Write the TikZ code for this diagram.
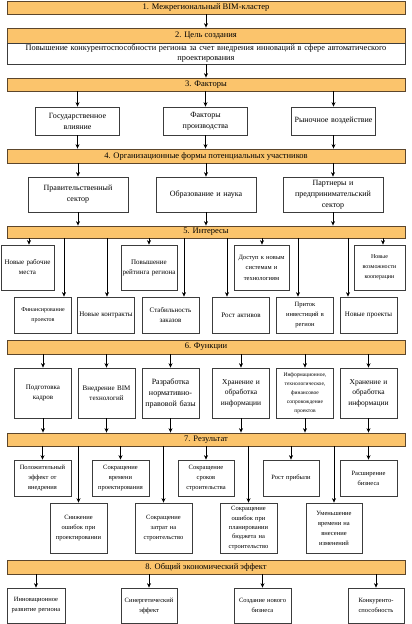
\documentclass[tikz,border=0pt]{standalone}
\usepackage{fontspec}
\setmainfont{Liberation Serif}
\usetikzlibrary{arrows.meta}
\definecolor{hdrorange}{RGB}{251,196,108}
\definecolor{hdrline}{RGB}{92,70,44}
\definecolor{boxline}{RGB}{60,60,60}

\begin{document}
\begin{tikzpicture}[x=1pt, y=-1pt,
    hdr/.style={draw=hdrline, fill=hdrorange, line width=0.8pt, minimum width=398pt,
      minimum height=#1, inner sep=0pt, font=\fontsize{8.5}{10}\selectfont},
    box/.style 2 args={draw=boxline, fill=white, line width=0.7pt, align=center,
      inner sep=1pt, text width=#1, minimum height=#2, font=\fontsize{7}{10}\selectfont},
    arr/.style={-{Stealth[length=4.5pt,width=4pt]}, line width=0.7pt}]
  \useasboundingbox (0,0) rectangle (412,624);

  % 1-2. Cluster and goal
  \node[hdr=13pt] (h1) at (206,7.5) {1. Межрегиональный BIM-кластер};
  \node[hdr=15pt] (h2) at (206,35.5) {2. Цель создания};
  \node[box={396pt}{21pt}, font=\fontsize{8.3}{10}\selectfont] (goal) at (206,53.5)
    {Повышение конкурентоспособности региона за счет внедрения инноваций в сфере автоматического\\проектирования};

  % 3. Factors
  \node[hdr=13pt] (h3) at (206,84.5) {3. Факторы};
  \node[box={82pt}{28pt}, font=\fontsize{8}{11}\selectfont] (gov) at (77.5,121) {Государственное\\влияние};
  \node[box={82pt}{28pt}, font=\fontsize{8}{11}\selectfont] (fprod) at (205.5,121) {Факторы\\производства};
  \node[box={82pt}{28pt}, font=\fontsize{8}{11}\selectfont] (rynok) at (333.5,121) {Рыночное воздействие};

  % 4. Participants
  \node[hdr=14pt] (h4) at (206,156) {4. Организационные формы потенциальных участников};
  \node[box={98pt}{35pt}, font=\fontsize{8}{11}\selectfont] (prav) at (78,194.5) {Правительственный\\сектор};
  \node[box={98pt}{35pt}, font=\fontsize{8}{11}\selectfont] (obr) at (206,194.5) {Образование и наука};
  \node[box={98pt}{35pt}, font=\fontsize{8}{11}\selectfont] (partn) at (333,194.5) {Партнеры и\\предпринимательский\\сектор};

  % 5. Interests
  \node[hdr=12pt] (h5) at (206,232) {5. Интересы};
  \node[box={51pt}{45pt}] (nr) at (27.5,267.5) {Новые рабочие\\места};
  \node[box={54pt}{45pt}] (rr) at (149,267.5) {Повышение\\рейтинга региона};
  \node[box={53pt}{45pt}, font=\fontsize{6.5}{10.5}\selectfont] (dost) at (261.5,267.5) {Доступ к новым\\системам и\\технологиям};
  \node[box={49pt}{45pt}, font=\fontsize{6}{10}\selectfont] (koop) at (379.5,267.5) {Новые\\возможности\\кооперации};
  \node[box={55pt}{36pt}, font=\fontsize{6}{10}\selectfont] (fin) at (43,315) {Финансирование\\проектов};
  \node[box={55pt}{36pt}, font=\fontsize{7}{10}\selectfont] (kontr) at (106,315) {Новые контракты};
  \node[box={55pt}{36pt}] (stab) at (170.5,315) {Стабильность\\заказов};
  \node[box={55pt}{36pt}] (akt) at (241,315) {Рост активов};
  \node[box={55pt}{36pt}, font=\fontsize{6.5}{10}\selectfont] (inv) at (305,315) {Приток\\инвестиций в\\регион};
  \node[box={55pt}{36pt}] (proj) at (368.5,315) {Новые проекты};

  % 6. Functions
  \node[hdr=14pt] (h6) at (206,347) {6. Функции};
  \node[box={55pt}{50pt}] (kadr) at (43,393) {Подготовка\\кадров};
  \node[box={55pt}{50pt}] (bim) at (106.5,393) {Внедрение BIM\\технологий};
  \node[box={55pt}{50pt}, font=\fontsize{8}{11}\selectfont] (norm) at (170.5,393) {Разработка\\нормативно-\\правовой базы};
  \node[box={55pt}{50pt}, font=\fontsize{7.5}{10.5}\selectfont] (hran) at (241,393) {Хранение и\\обработка\\информации};
  \node[box={55pt}{50pt}, font=\fontsize{5.5}{9}\selectfont] (sopr) at (305,393) {Информационное,\\технологическое,\\финансовое\\сопровождение\\проектов};
  \node[box={55pt}{50pt}, font=\fontsize{7.5}{10.5}\selectfont] (hranb) at (368.5,393) {Хранение и\\обработка\\информации};

  % 7. Results
  \node[hdr=13pt] (h7) at (206,439.5) {7. Результат};
  \node[box={55pt}{36pt}, font=\fontsize{6.5}{10}\selectfont] (poz) at (42.5,478) {Положительный\\эффект от\\внедрения};
  \node[box={55pt}{36pt}, font=\fontsize{6.5}{10}\selectfont] (vrem) at (120.5,478) {Сокращение\\времени\\проектирования};
  \node[box={54pt}{36pt}, font=\fontsize{6.5}{10}\selectfont] (srok) at (206,478) {Сокращение\\сроков\\строительства};
  \node[box={54pt}{36pt}, font=\fontsize{6.5}{10}\selectfont] (prib) at (291,478) {Рост прибыли};
  \node[box={55pt}{36pt}, font=\fontsize{6.5}{10}\selectfont] (rassh) at (368.5,478) {Расширение\\бизнеса};
  \node[box={55pt}{50pt}, font=\fontsize{6.5}{10}\selectfont] (osh) at (78.5,528) {Снижение\\ошибок при\\проектировании};
  \node[box={55pt}{50pt}, font=\fontsize{6.5}{10}\selectfont] (zatr) at (163.5,528) {Сокращение\\затрат на\\строительство};
  \node[box={55pt}{50pt}, font=\fontsize{6.5}{9.3}\selectfont] (budg) at (248.5,528) {Сокращение\\ошибок при\\планировании\\бюджета на\\строительство};
  \node[box={54pt}{50pt}, font=\fontsize{6.5}{10}\selectfont] (izm) at (334,528) {Уменьшение\\времени на\\внесение\\изменений};

  % 8. Overall effect
  \node[hdr=14pt] (h8) at (206,567) {8. Общий экономический эффект};
  \node[box={56pt}{35pt}, font=\fontsize{6.5}{10}\selectfont] (innov) at (36,605.5) {Инновационное\\развитие региона};
  \node[box={54pt}{35pt}, font=\fontsize{6.5}{10}\selectfont] (sinerg) at (149,605.5) {Синергетический\\эффект};
  \node[box={55pt}{35pt}, font=\fontsize{6.5}{10}\selectfont] (biz) at (262.5,605.5) {Создание нового\\бизнеса};
  \node[box={54pt}{35pt}, font=\fontsize{6.5}{10}\selectfont] (konk) at (376,605.5) {Конкуренто-\\способность};

  % Arrows
  \draw[arr] (h1) -- (h2);
  \draw[arr] (goal) -- (h3);
  \foreach \b in {gov,fprod,rynok} {
    \draw[arr] (h3.south -| \b) -- (\b);
    \draw[arr] (\b) -- (\b |- h4.north);
  }
  \foreach \b in {prav,obr,partn} {
    \draw[arr] (h4.south -| \b) -- (\b);
    \draw[arr] (\b) -- (\b |- h5.north);
  }
  \foreach \x/\b in {29/nr,149/rr,262/dost,383/koop,64/fin,107/kontr,184/stab,227/akt,298/inv,348/proj}
    \draw[arr] (\x,0 |- h5.south) -- (\x,0 |- \b.north);
  \foreach \b in {kadr,bim,norm,hran,sopr,hranb} {
    \draw[arr] (h6.south -| \b) -- (\b);
    \draw[arr] (\b) -- (\b |- h7.north);
  }
  \foreach \b in {poz,vrem,srok,prib,rassh,osh,zatr,budg,izm}
    \draw[arr] (h7.south -| \b) -- (\b);
  \foreach \b in {innov,sinerg,biz,konk}
    \draw[arr] (h8.south -| \b) -- (\b);
\end{tikzpicture}
\end{document}
